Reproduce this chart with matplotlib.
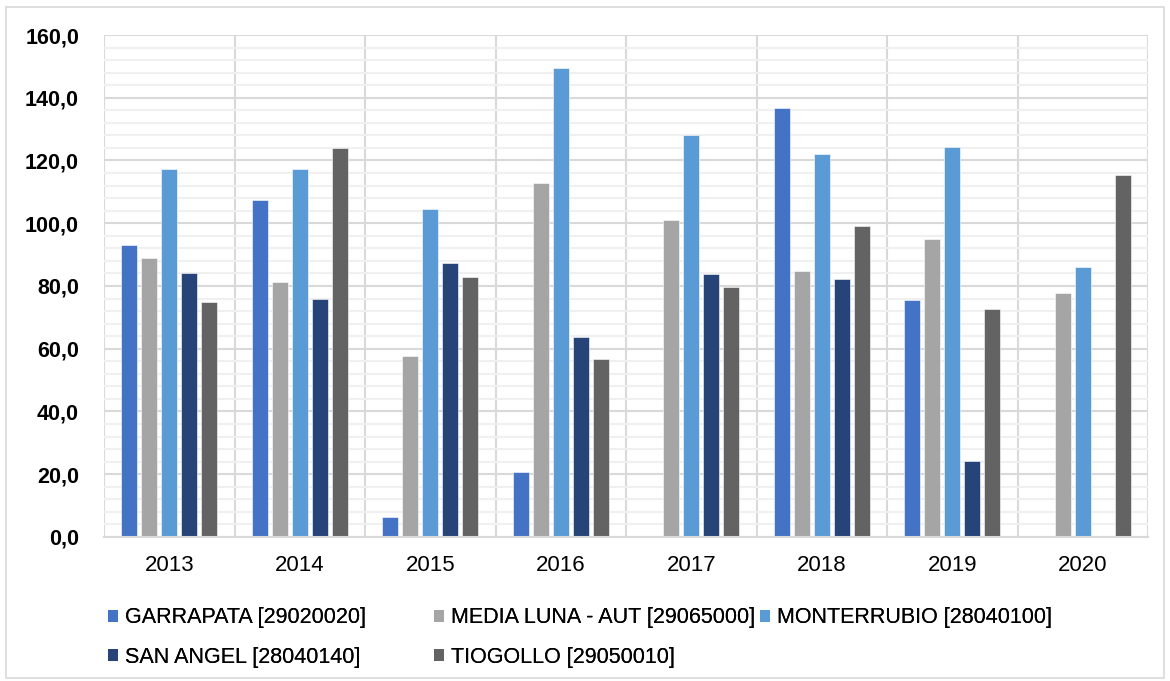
import numpy as np
import matplotlib.pyplot as plt
from matplotlib.patches import Patch, Rectangle
from matplotlib.ticker import FuncFormatter, MultipleLocator

plt.rcParams['font.family'] = ['Liberation Sans', 'DejaVu Sans']

# ---------------- data ---------------- #
years = ['2013', '2014', '2015', '2016', '2017', '2018', '2019', '2020']
series_names = ['GARRAPATA [29020020]', 'MEDIA LUNA - AUT [29065000]',
                'MONTERRUBIO [28040100]', 'SAN ANGEL [28040140]',
                'TIOGOLLO [29050010]']
garrapata   = [93.1, 107.3, 6.5, 20.8, np.nan, 136.8, 75.6, np.nan]
media_luna  = [89.0, 81.4, 57.7, 112.8, 101.0, 84.8, 95.1, 77.7]
monterrubio = [117.2, 117.3, 104.6, 149.5, 128.1, 122.0, 124.2, 86.0]
san_angel   = [84.0, 76.0, 87.3, 63.6, 83.9, 82.1, 24.1, np.nan]
tiogollo    = [75.0, 123.9, 83.0, 56.6, 79.8, 99.2, 72.6, 115.4]
series = [garrapata, media_luna, monterrubio, san_angel, tiogollo]
colors = ['#4472C4', '#A5A5A5', '#5B9BD5', '#264478', '#636363']

# ---------------- figure ---------------- #
fig = plt.figure(figsize=(11.7, 6.81), dpi=100)
ax = fig.add_axes([0.0889, 0.2115, 0.8923, 0.7371])

x = np.arange(len(years))
step, width = 0.153, 0.123
for i, (vals, col) in enumerate(zip(series, colors)):
    ax.bar(x + (i - 2) * step, vals, width, color=col,
           edgecolor='white', linewidth=0.4, zorder=3)

ax.set_xlim(-0.5, len(years) - 0.5)
ax.set_ylim(0, 160)
ax.yaxis.set_major_locator(MultipleLocator(20))
ax.yaxis.set_minor_locator(MultipleLocator(4))
ax.yaxis.set_major_formatter(FuncFormatter(lambda v, p: f'{v:.1f}'.replace('.', ',')))
ax.grid(which='major', axis='y', color='#d9d9d9', lw=1.5, zorder=1)
ax.grid(which='minor', axis='y', color='#f0f0f0', lw=1.5, zorder=0)

# category separators
for b in np.arange(-0.5, len(years), 1.0):
    ax.axvline(b, color='#d9d9d9', lw=1.5, zorder=1)

ax.set_xticks(x)
ax.set_xticklabels(years, fontsize=16)
for lab in ax.get_yticklabels():
    lab.set_fontweight('bold')
    lab.set_fontsize(15.5)
ax.tick_params(axis='both', which='both', length=0)
ax.tick_params(axis='y', pad=18)
ax.tick_params(axis='x', pad=13)
for s in ['top', 'right', 'left']:
    ax.spines[s].set_visible(False)
ax.spines['bottom'].set_color('#d9d9d9')
ax.spines['bottom'].set_linewidth(1.5)
ax.spines['bottom'].set_zorder(4)

# legend: three fixed-width columns, row-wise order
handles = [Patch(facecolor=c, edgecolor='none') for c in colors]
cols = [[0, 3], [1, 4], [2]]
col_x = [0.0923, 0.3709, 0.6496]
for cx, idx in zip(col_x, cols):
    leg = fig.legend([handles[k] for k in idx], [series_names[k] for k in idx],
                     loc='upper left', bbox_to_anchor=(cx, 0.108),
                     bbox_transform=fig.transFigure,
                     frameon=False, fontsize=15.5, handlelength=0.45, handleheight=0.45,
                     handletextpad=0.35, labelspacing=0.85, borderaxespad=0,
                     borderpad=0)
    fig.add_artist(leg)

# outer frame
fig.add_artist(Rectangle((0.005, 0.005), 0.99, 0.985, transform=fig.transFigure,
                         fill=False, edgecolor='#d9d9d9', lw=1.2))

fig.savefig('out.png', dpi=100)
